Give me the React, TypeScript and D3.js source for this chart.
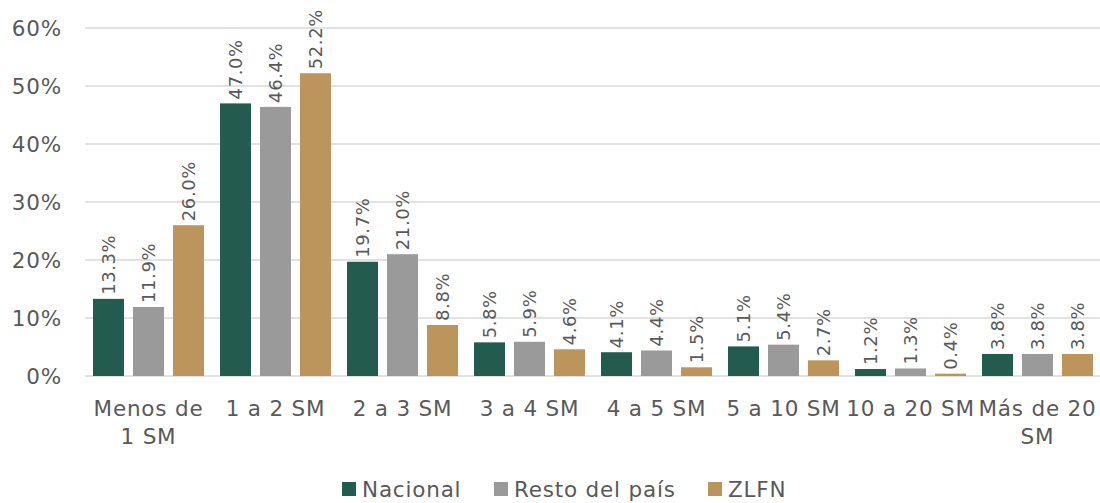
import React from "react";
import * as d3 from "d3";

const categories = ["Menos de 1 SM", "1 a 2 SM", "2 a 3 SM", "3 a 4 SM", "4 a 5 SM", "5 a 10 SM", "10 a 20 SM", "Más de 20 SM"];
const categoryLines = [["Menos de", "1 SM"], ["1 a 2 SM"], ["2 a 3 SM"], ["3 a 4 SM"], ["4 a 5 SM"], ["5 a 10 SM"], ["10 a 20 SM"], ["Más de 20", "SM"]];
const seriesNames = ["Nacional", "Resto del país", "ZLFN"];
const nacional = [13.3, 47.0, 19.7, 5.8, 4.1, 5.1, 1.2, 3.8];
const resto = [11.9, 46.4, 21.0, 5.9, 4.4, 5.4, 1.3, 3.8];
const zlfn = [26.0, 52.2, 8.8, 4.6, 1.5, 2.7, 0.4, 3.8];
const yTicks = [0, 10, 20, 30, 40, 50, 60];
const colors = ["#235B4E", "#9B9A9A", "#BC955C"];

const W = 1100, H = 503;
const FONT = "'DejaVu Sans', sans-serif";
const TEXT = "#595959";

export default function App() {
  const series = [nacional, resto, zlfn];
  const x0 = d3.scaleBand().domain(categories).range([85, 1101]).paddingInner(0).paddingOuter(0);
  const x1 = d3.scaleBand().domain(seriesNames).range([8, x0.bandwidth() - 8]).paddingInner(0.225).paddingOuter(0);
  const y = d3.scaleLinear().domain([0, 60]).range([376, 28]);

  return (
    <svg width={W} height={H} style={{ position: "absolute", left: 0, top: 0, background: "#fff" }} fontFamily={FONT}>
      {yTicks.map((t) => (
        <g key={t}>
          <line x1={85} x2={1100} y1={y(t)} y2={y(t)} stroke="#D9D9D9" strokeWidth={1.5} />
          <text x={62} y={y(t)} dy="0.35em" textAnchor="end" fontSize={21.5} letterSpacing={0.8} fill={TEXT}>{t}%</text>
        </g>
      ))}
      {categories.map((c, i) => (
        <g key={c} transform={`translate(${x0(c)},0)`}>
          {series.map((s, j) => {
            const bx = x1(seriesNames[j])!;
            const bw = x1.bandwidth();
            const v = s[i];
            return (
              <g key={j}>
                <rect x={bx} y={y(v)} width={bw} height={y(0) - y(v)} fill={colors[j]} />
                <text transform={`translate(${bx + bw / 2},${y(v) - 4}) rotate(-90)`} dy="0.35em" fontSize={18} letterSpacing={0.6} fill={TEXT}>
                  {v.toFixed(1)}%
                </text>
              </g>
            );
          })}
          {categoryLines[i].map((ln, k) => (
            <text key={k} x={x0.bandwidth() / 2} y={416 + k * 28} textAnchor="middle" fontSize={21.5} letterSpacing={0.8} fill={TEXT}>{ln}</text>
          ))}
        </g>
      ))}
      {(() => {
        const items = [
          { name: seriesNames[0], x: 342 },
          { name: seriesNames[1], x: 494 },
          { name: seriesNames[2], x: 708 },
        ];
        return items.map((it, j) => (
          <g key={it.name}>
            <rect x={it.x} y={482} width={14} height={14} fill={colors[j]} />
            <text x={it.x + 20} y={489} dy="0.35em" fontSize={21.5} letterSpacing={0.8} fill={TEXT}>{it.name}</text>
          </g>
        ));
      })()}
    </svg>
  );
}
